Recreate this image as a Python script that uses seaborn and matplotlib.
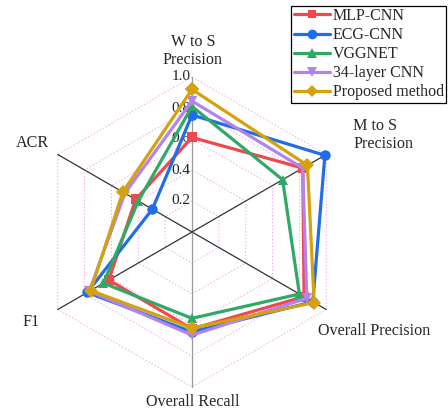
import numpy as np
import pandas as pd
import matplotlib
matplotlib.use("Agg")
import matplotlib.pyplot as plt
from matplotlib.lines import Line2D
import seaborn as sns

# Metrics on the radar, counter-clockwise from the top
metrics = ["W to S\nPrecision", "M to S\nPrecision", "Overall Precision",
           "Overall Recall", "F1", "ACR"]
angles_deg = [90, 30, -30, -90, 210, 150]

models = ["MLP-CNN", "ECG-CNN", "VGGNET", "34-layer CNN", "Proposed method"]
mlp_cnn = [0.61, 0.825, 0.835, 0.625, 0.62, 0.42]
ecg_cnn = [0.755, 0.99, 0.90, 0.645, 0.78, 0.295]
vggnet = [0.81, 0.675, 0.80, 0.557, 0.66, 0.40]
cnn34 = [0.845, 0.825, 0.855, 0.665, 0.765, 0.50]
proposed = [0.92, 0.86, 0.91, 0.62, 0.755, 0.515]
series = [mlp_cnn, ecg_cnn, vggnet, cnn34, proposed]

ticks = [0.2, 0.4, 0.6, 0.8, 1.0]
tick_labels = ["0.2", "0.4", "0.6", "0.8", "1.0"]

colors = ["#F2474D", "#1F6EE8", "#2FAA66", "#B283EE", "#D5A10F"]
markers = ["s", "o", "^", "v", "D"]
msizes = [6, 7, 7, 7, 6]

sns.set_style("white")
plt.rcParams["font.family"] = ["Liberation Serif", "DejaVu Serif"]

theta = np.deg2rad(angles_deg)

# Build a long table of polygon vertices (closed back to the first metric)
rows = []
for name, vals in zip(models, series):
    for k in list(range(len(metrics))) + [0]:
        rows.append({"model": name,
                     "x": vals[k] * np.cos(theta[k]),
                     "y": vals[k] * np.sin(theta[k])})
df = pd.DataFrame(rows)

W, H = 448, 409
cx, cy, scale = 192, 232, 155.0
fig = plt.figure(figsize=(W / 100, H / 100), dpi=100)
ax = fig.add_axes([0, 0, 1, 1])
ax.set_xlim(-cx / scale, (W - cx) / scale)
ax.set_ylim(-(H - cy) / scale, cy / scale)
ax.axis("off")

# Hexagonal grid rings
ring_idx = list(range(len(metrics))) + [0]
for t in ticks:
    ax.plot(t * np.cos(theta[ring_idx]), t * np.sin(theta[ring_idx]),
            color="#F2A6F0", lw=0.7, ls=(0, (1.5, 2)), zorder=1)

# Spokes
for k, a in enumerate(theta):
    col = "#9a9a9a" if angles_deg[k] in (90, -90) else "#333333"
    ax.plot([0, np.cos(a)], [0, np.sin(a)], color=col, lw=0.9, zorder=1.5)

sns.lineplot(data=df, x="x", y="y", hue="model", style="model",
             hue_order=models, style_order=models,
             palette=dict(zip(models, colors)),
             markers=dict(zip(models, markers)), dashes=False,
             sort=False, estimator=None, lw=2.3, markersize=7.5,
             markeredgewidth=0, legend=False, ax=ax, zorder=3)

# Radial tick labels along the top spoke
for t, lab in zip(ticks, tick_labels):
    ax.text(-0.01, t, lab, ha="right", va="center", fontsize=11,
            color="#222222", zorder=2)

# Metric labels
fs = 11.6
ax.text(0.005, 1.168, metrics[0], ha="center", va="center", fontsize=fs,
        linespacing=1.2)
ax.text(1.039, 0.626, metrics[1], ha="left", va="center", fontsize=fs,
        linespacing=1.2)
ax.text(1.177, -0.637, metrics[2], ha="center", va="center", fontsize=fs)
ax.text(0.003, -1.097, metrics[3], ha="center", va="center", fontsize=fs)
ax.text(-1.04, -0.58, metrics[4], ha="center", va="center", fontsize=fs)
ax.text(-1.032, 0.576, metrics[5], ha="center", va="center", fontsize=fs)

handles = [Line2D([], [], color=c, marker=m, lw=2.3, markersize=ms,
                  markeredgewidth=0)
           for c, m, ms in zip(colors, markers, msizes)]
leg = fig.legend(handles, models, loc="upper right",
                 bbox_to_anchor=(1.0, 0.99), fontsize=11.5,
                 frameon=True, fancybox=False, edgecolor="black",
                 framealpha=1, borderpad=0.15, handlelength=2.3,
                 handletextpad=0.15, labelspacing=0.19, borderaxespad=0.1)
leg.get_frame().set_linewidth(0.9)

fig.savefig("out.png", dpi=100)
